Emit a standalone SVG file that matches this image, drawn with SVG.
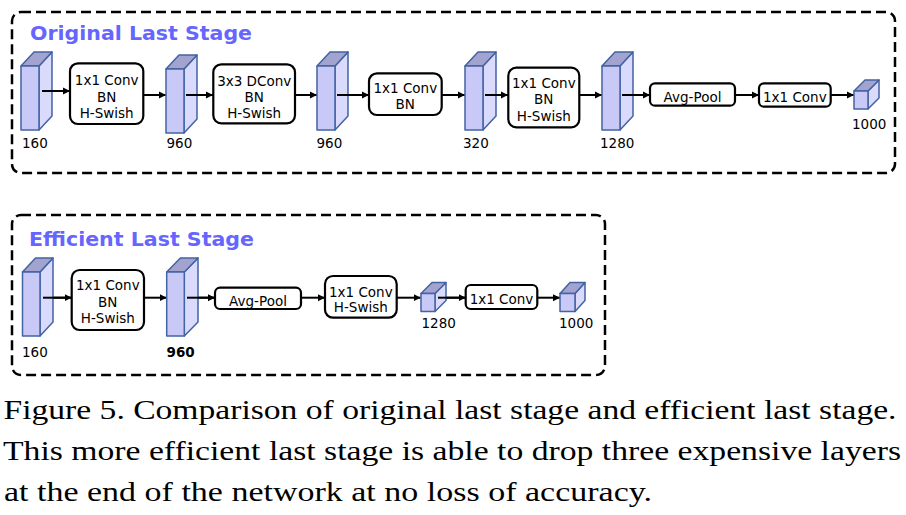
<svg xmlns="http://www.w3.org/2000/svg" width="906" height="515" viewBox="0 0 906 515">
<style>
.frame{fill:none;stroke:#000;stroke-width:2.5;stroke-dasharray:10 5}
.title{font-family:"DejaVu Sans",sans-serif;font-weight:bold;font-size:20px;fill:#6666ff}
.box{fill:#fff;stroke:#000;stroke-width:2.2}
.t{font-family:"DejaVu Sans",sans-serif;font-size:13.5px;fill:#000;text-anchor:middle}
.lbl{font-family:"DejaVu Sans",sans-serif;font-size:13.5px;fill:#000}
.front{fill:#c9c9f7;stroke:#4363a3;stroke-width:1.5;stroke-linejoin:round}
.side{fill:#dadafd;stroke:#4363a3;stroke-width:1.5;stroke-linejoin:round}
.top{fill:#a3a3cf;stroke:#4363a3;stroke-width:1.5;stroke-linejoin:round}
.arr{stroke:#000;stroke-width:2;fill:none;marker-end:url(#ah)}
.cap{font-family:"Liberation Serif","Times New Roman",serif;font-size:27.5px;fill:#000}
</style>
<defs>
<marker id="ah" markerWidth="8" markerHeight="8" refX="7" refY="4" orient="auto" markerUnits="userSpaceOnUse">
<path d="M0,0.5 L7,4 L0,7.5 Z" fill="#000"/>
</marker>
</defs>

<rect class="frame" x="12" y="12" width="883" height="161" rx="9"/>
<text class="title" x="30" y="40" textLength="222" lengthAdjust="spacingAndGlyphs">Original Last Stage</text>

<rect class="frame" x="12" y="215" width="593" height="160" rx="9"/>
<text class="title" x="29" y="246" textLength="225" lengthAdjust="spacingAndGlyphs">Efficient Last Stage</text>

<g id="connectors">
<path class="arr" d="M49,91 H70"/>
<path class="arr" d="M143,95 H166"/>
<path class="arr" d="M190,95 H213"/>
<path class="arr" d="M295,95 H317"/>
<path class="arr" d="M344,95 H369"/>
<path class="arr" d="M442,95 H465"/>
<path class="arr" d="M485,95 H508"/>
<path class="arr" d="M579,95 H602"/>
<path class="arr" d="M628,95 H650"/>
<path class="arr" d="M735,95 H759"/>
<path class="arr" d="M831,95 H854"/>
<path class="arr" d="M50,297.7 H71.7"/>
<path class="arr" d="M144,297.7 H166.7"/>
<path class="arr" d="M191.7,297.7 H215"/>
<path class="arr" d="M301,297.7 H325"/>
<path class="arr" d="M396.7,297.7 H420.7"/>
<path class="arr" d="M441.7,297.7 H465.7"/>
<path class="arr" d="M537.3,297.7 H560"/>
</g>

<!-- Original stage -->
<g id="o-t160">
<path class="side" d="M39,66 L52,52 L52,116 L39,130 Z"/>
<path class="top" d="M21,66 L34,52 L52,52 L39,66 Z"/>
<rect class="front" x="21" y="66" width="18" height="64"/>
<path class="arr" d="M42,91 H70" style="marker-end:none"/>
<text class="lbl" x="22" y="148">160</text>
</g>
<g id="o-conv1">
<rect class="box" x="70" y="63.3" width="73.3" height="60.7" rx="8"/>
<text class="t" x="106.7" y="85">1x1 Conv</text>
<text class="t" x="106.7" y="101.5">BN</text>
<text class="t" x="106.7" y="118">H-Swish</text>
</g>
<g id="o-t960a">
<path class="side" d="M184,69 L197,55 L197,119 L184,133 Z"/>
<path class="top" d="M166,69 L179,55 L197,55 L184,69 Z"/>
<rect class="front" x="166" y="69" width="18" height="64"/>
<path class="arr" d="M186,95 H213" style="marker-end:none"/>
<text class="lbl" x="166.5" y="148">960</text>
</g>
<g id="o-dconv">
<rect class="box" x="213.3" y="64.3" width="81.7" height="59" rx="8"/>
<text class="t" x="254.2" y="86">3x3 DConv</text>
<text class="t" x="254.2" y="102">BN</text>
<text class="t" x="254.2" y="118">H-Swish</text>
</g>
<g id="o-t960b">
<path class="side" d="M335,66 L348,52 L348,116 L335,130 Z"/>
<path class="top" d="M317,66 L330,52 L348,52 L335,66 Z"/>
<rect class="front" x="317" y="66" width="18" height="64"/>
<path class="arr" d="M337,95 H369" style="marker-end:none"/>
<text class="lbl" x="316.5" y="148">960</text>
</g>
<g id="o-conv2">
<rect class="box" x="369" y="73.3" width="72.7" height="41.7" rx="8"/>
<text class="t" x="405.3" y="92.5">1x1 Conv</text>
<text class="t" x="405.3" y="109">BN</text>
</g>
<g id="o-t320">
<path class="side" d="M483,66 L496,52 L496,116 L483,130 Z"/>
<path class="top" d="M465,66 L478,52 L496,52 L483,66 Z"/>
<rect class="front" x="465" y="66" width="18" height="64"/>
<path class="arr" d="M485,95 H508" style="marker-end:none"/>
<text class="lbl" x="463" y="148">320</text>
</g>
<g id="o-conv3">
<rect class="box" x="508.3" y="67.7" width="71" height="59.6" rx="8"/>
<text class="t" x="543.8" y="88">1x1 Conv</text>
<text class="t" x="543.8" y="104">BN</text>
<text class="t" x="543.8" y="120.5">H-Swish</text>
</g>
<g id="o-t1280">
<path class="side" d="M620,66 L633,52 L633,116 L620,130 Z"/>
<path class="top" d="M602,66 L615,52 L633,52 L620,66 Z"/>
<rect class="front" x="602" y="66" width="18" height="64"/>
<path class="arr" d="M622,95 H650" style="marker-end:none"/>
<text class="lbl" x="600" y="148">1280</text>
</g>
<g id="o-pool">
<rect class="box" x="650" y="83.3" width="85" height="22.4" rx="5"/>
<text class="t" x="692.5" y="102">Avg-Pool</text>
</g>
<g id="o-conv4">
<rect class="box" x="759" y="83.3" width="71.7" height="23.4" rx="5"/>
<text class="t" x="794.8" y="101.5">1x1 Conv</text>
</g>
<g id="o-t1000">
<path class="side" d="M868,91 L879,80 L879,98 L868,109 Z"/>
<path class="top" d="M854,91 L865,80 L879,80 L868,91 Z"/>
<rect class="front" x="854" y="91" width="14" height="18"/>
<text class="lbl" x="852" y="128.5">1000</text>
</g>

<!-- Efficient stage -->
<g id="e-t160">
<path class="side" d="M40,272 L53,258 L53,322 L40,336 Z"/>
<path class="top" d="M22.5,272 L35.5,258 L53,258 L40,272 Z"/>
<rect class="front" x="22.5" y="272" width="17.5" height="64"/>
<path class="arr" d="M43,297.7 H71.7" style="marker-end:none"/>
<text class="lbl" x="22" y="357">160</text>
</g>
<g id="e-conv1">
<rect class="box" x="71.7" y="270" width="72.3" height="60" rx="8"/>
<text class="t" x="107.8" y="290">1x1 Conv</text>
<text class="t" x="107.8" y="306.7">BN</text>
<text class="t" x="107.8" y="323.3">H-Swish</text>
</g>
<g id="e-t960">
<path class="side" d="M184.3,272 L198,258 L198,322 L184.3,336 Z"/>
<path class="top" d="M166.7,272 L180.4,258 L198,258 L184.3,272 Z"/>
<rect class="front" x="166.7" y="272" width="17.6" height="64"/>
<path class="arr" d="M187,297.7 H215" style="marker-end:none"/>
<text class="lbl" x="166.5" y="357" style="font-weight:bold">960</text>
</g>
<g id="e-pool">
<rect class="box" x="215" y="287.7" width="86" height="21.3" rx="5"/>
<text class="t" x="258" y="305.5">Avg-Pool</text>
</g>
<g id="e-conv2">
<rect class="box" x="325" y="276" width="71.7" height="41.7" rx="8"/>
<text class="t" x="360.8" y="296.7">1x1 Conv</text>
<text class="t" x="360.8" y="312">H-Swish</text>
</g>
<g id="e-t1280">
<path class="side" d="M435,293.5 L446,282.5 L446,300.5 L435,311.5 Z"/>
<path class="top" d="M421,293.5 L432,282.5 L446,282.5 L435,293.5 Z"/>
<rect class="front" x="421" y="293.5" width="14" height="18"/>
<path class="arr" d="M438,297.7 H465.7" style="marker-end:none"/>
<text class="lbl" x="421.5" y="328">1280</text>
</g>
<g id="e-conv3">
<rect class="box" x="465.7" y="285" width="71.6" height="24" rx="5"/>
<text class="t" x="501.5" y="303.5">1x1 Conv</text>
</g>
<g id="e-t1000">
<path class="side" d="M575,293.5 L585,282.5 L585,300.5 L575,311.5 Z"/>
<path class="top" d="M560,293.5 L570,282.5 L585,282.5 L575,293.5 Z"/>
<rect class="front" x="560" y="293.5" width="15" height="18"/>
<text class="lbl" x="559" y="328">1000</text>
</g>

<text class="cap" x="3.5" y="418.5" textLength="893" lengthAdjust="spacingAndGlyphs">Figure 5. Comparison of original last stage and efficient last stage.</text>
<text class="cap" x="3" y="460" textLength="898" lengthAdjust="spacingAndGlyphs">This more efficient last stage is able to drop three expensive layers</text>
<text class="cap" x="4" y="500.5" textLength="648" lengthAdjust="spacingAndGlyphs">at the end of the network at no loss of accuracy.</text>
</svg>
